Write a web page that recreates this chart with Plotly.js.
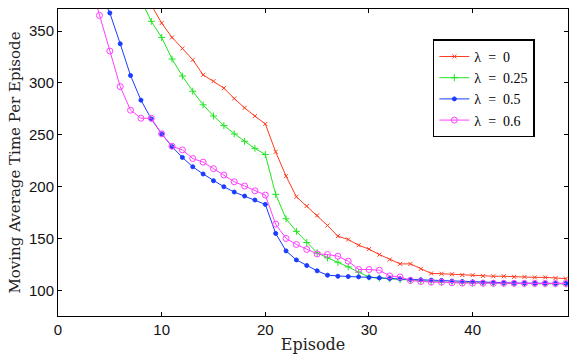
<!DOCTYPE html>
<html>
<head>
<meta charset="utf-8">
<script src="https://cdn.plot.ly/plotly-3.0.1.min.js"></script>
<style>html,body{margin:0;padding:0;background:#fff;}#chart{width:569px;height:354px;}</style>
</head>
<body>
<div id="chart"></div>
<script>
const episodes = [1,2,3,4,5,6,7,8,9,10,11,12,13,14,15,16,17,18,19,20,21,22,23,24,25,26,27,28,29,30,31,32,33,34,35,36,37,38,39,40,41,42,43,44,45,46,47,48,49];
const seriesNames = ['λ\u2002=\u20020', 'λ\u2002=\u20020.25', 'λ\u2002=\u20020.5', 'λ\u2002=\u20020.6'];
const lambda0 = [null,null,null,null,null,null,null,395,375,357.7,343.8,333.2,322.3,307.8,301.7,295,285,276,268,260.5,233.6,210.2,190.3,181.4,172.4,162.7,152.4,149.2,143.7,139.9,134.7,129.9,125.7,125.7,120.9,116.5,116.2,115.7,115,114.8,114.1,113.8,113.8,113.2,113.2,112.7,112.7,112,111.5];
const lambda025 = [null,null,null,null,null,null,null,380,359.3,343.8,323,306.6,292,278.9,268.2,258.9,250.9,243.8,237,231,192.7,169.1,157,146.3,136.3,131.5,127.3,122.8,117.7,113.1,112,111.3,110.5,109.8,109.2,108.7,108.3,108,107.7,107.4,107.2,107,106.9,106.8,106.7,106.6,106.5,106.5,106.4];
const lambda05 = [null,null,null,388,367.4,337.7,307.1,283.4,265.3,250.9,238.6,228.2,219.2,212.3,205.8,200,194.9,191,187.2,183,155,138.2,129.5,124.1,119,114.8,113.8,113.5,113.2,112.6,112.2,111.6,111.3,110.7,110.4,110,109.7,109.1,108.7,108.4,107.9,107.8,107.5,107.2,107.1,107,107,106.9,106.9];
const lambda06 = [null,null,400,365,330.7,296.5,273.7,266,266,251,239,235.5,227.2,223.7,217.4,211.3,204.8,200.7,196.1,192,164,150.2,144.4,139.6,135.3,134.7,133.1,128.3,120.3,120.3,119.6,114.1,113.1,109.7,108.7,108.1,108.1,107.5,107.2,107.2,107.1,107,107,107,106.9,106.9,106.9,106.8,106.8];
const xTicks = [0,10,20,30,40];
const yTicks = [100,150,200,250,300,350];

const styles = [
  {color:'#ff3b1f', symbol:'x-thin-open', size:4},
  {color:'#1fe61f', symbol:'cross-thin-open', size:5},
  {color:'#1a3cff', symbol:'circle', size:4},
  {color:'#ff40ff', symbol:'circle-open', size:6}
];
const values = [lambda0, lambda025, lambda05, lambda06];
const traces = values.map((v,i)=>({
  x: episodes, y: v, name: seriesNames[i], type:'scatter', mode:'lines+markers',
  cliponaxis: true,
  line:{color:styles[i].color, width:1},
  marker:{color:styles[i].color, symbol:styles[i].symbol, size:styles[i].size, line:{color:styles[i].color, width:1}}
}));

const tickFont = {family:'"Liberation Sans", Arial, sans-serif', size:15, color:'#111'};
const layout = {
  width:569, height:354,
  margin:{l:58, r:1, t:9, b:38},
  paper_bgcolor:'#fff', plot_bgcolor:'#fff',
  showlegend:true,
  legend:{x:0.735, y:0.901, xanchor:'left', yanchor:'top', bgcolor:'#fff', bordercolor:'#000', borderwidth:1.5,
    font:{family:'"Liberation Serif", serif', size:14, color:'#000'}, itemwidth:30, tracegroupgap:0},
  xaxis:{range:[0,49.2], tickvals:xTicks, ticktext:xTicks.map(String), ticks:'inside', ticklen:4, tickcolor:'#000',
    showline:true, linecolor:'#000', linewidth:1, mirror:'ticks', showgrid:false, zeroline:false,
    tickfont:tickFont,
    title:{text:'Episode', font:{family:'"DejaVu Serif", serif', size:16, color:'#222'}, standoff:2}},
  yaxis:{range:[75.5,371.2], tickvals:yTicks, ticktext:yTicks.map(String), ticks:'inside', ticklen:4, tickcolor:'#000',
    showline:true, linecolor:'#000', linewidth:1, mirror:'ticks', showgrid:false, zeroline:false,
    tickfont:tickFont,
    title:{text:'Moving Average Time Per Episode', font:{family:'"DejaVu Serif", serif', size:15, color:'#222'}, standoff:4}}
};
Plotly.newPlot('chart', traces, layout, {displayModeBar:false, staticPlot:true});
</script>
</body>
</html>
